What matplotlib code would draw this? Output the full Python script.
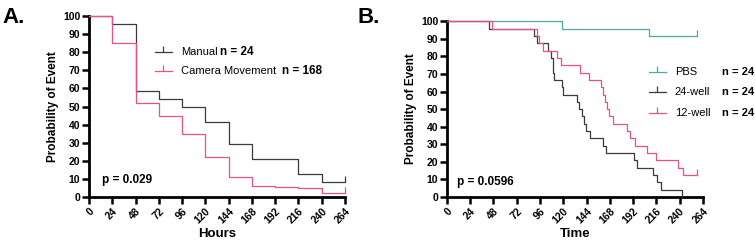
import matplotlib.pyplot as plt
from matplotlib.lines import TICKUP

plt.rcParams['font.family'] = ['Liberation Sans', 'DejaVu Sans']

# panel A
a_time = [0, 24, 48, 72, 96, 120, 144, 168, 192, 216, 240, 264]
manual = [100, 95.8, 58.3, 54.2, 50, 41.7, 29.2, 20.8, 20.8, 12.5, 8.3, 8.3]
camera = [100, 85.0, 51.8, 44.6, 35.0, 22.0, 11.3, 6.0, 5.4, 4.8, 2.4, 2.4]

# panel B
pbs_t = [0, 119, 208, 257.6]
pbs_v = [100, 95.8, 91.7, 91.7]
w24_t = [0, 43, 90, 92.5, 104.5, 107.5, 109, 109.5, 110, 119, 119.5, 134.4, 136.4,
         138.8, 141, 143.3, 147.4, 160.5, 164, 192.5, 196, 212.7, 216.8, 221, 242.6]
w24_v = [100, 95.8, 91.7, 87.5, 83.3, 79.2, 75, 70.8, 66.7, 62.5, 58.3, 54.2, 50,
         45.8, 41.7, 37.5, 33.3, 29.2, 25, 20.8, 16.7, 12.5, 8.3, 4.2, 0]
w12_t = [0, 46, 92.5, 95, 98.6, 113, 117.5, 137, 147, 158.4, 160.5, 163, 165, 167.5,
         171.5, 186, 189, 194, 206, 216, 238.5, 243.5, 257.6]
w12_v = [100, 95.8, 91.7, 87.5, 83.3, 79.2, 75, 70.8, 66.7, 62.5, 58.3, 54.2, 50, 45.8,
         41.7, 37.5, 33.3, 29.2, 25, 20.8, 16.7, 12.5, 12.5]

xticks = list(range(0, 265, 24))
yticks = list(range(0, 101, 10))

dark = '#3a3a3a'
pink = '#e8508a'
teal = '#4fa9a2'

fig = plt.figure(figsize=(7.55, 2.46), dpi=100)
axA = fig.add_axes([0.1179, 0.199, 0.339, 0.736])
axB = fig.add_axes([0.592, 0.199, 0.339, 0.715])


def style(ax, xlabel):
    ax.set_xlim(0, 264)
    ax.set_ylim(0, 100)
    ax.set_xticks(xticks)
    ax.set_yticks(yticks)
    for s in ['top', 'right']:
        ax.spines[s].set_visible(False)
    for s in ['left', 'bottom']:
        ax.spines[s].set_linewidth(2)
    ax.tick_params(width=1.8, length=4.8, labelsize=7.5, pad=1.5)
    for lab in ax.get_xticklabels():
        lab.set_rotation(45)
        lab.set_ha('right')
        lab.set_rotation_mode('anchor')
        lab.set_fontweight('bold')
    for lab in ax.get_yticklabels():
        lab.set_fontweight('bold')
    ax.set_ylabel('Probability of Event', fontsize=8.5, fontweight='bold', labelpad=3)
    ax.set_xlabel(xlabel, fontsize=9.5, fontweight='bold', labelpad=2)


def km(ax, t, v, c, censor=True):
    ax.step(t, v, where='post', color=c, lw=0.9, clip_on=False, zorder=3)
    if censor:
        ax.plot([t[-1]], [v[-1]], marker=TICKUP, ms=4, mew=0.9, color=c, clip_on=False, zorder=3)


def legend_row(ax, x, y, c, label, n, nx, nsize=8.5):
    ax.plot([x, x + 0.065], [y, y], color=c, lw=0.9, transform=ax.transAxes, clip_on=False)
    ax.plot([x + 0.0325], [y], marker=TICKUP, ms=4, mew=0.9, color=c,
            transform=ax.transAxes, clip_on=False)
    ax.text(x + 0.1, y, label, transform=ax.transAxes, fontsize=8, va='center')
    ax.text(nx, y, n, transform=ax.transAxes, fontsize=nsize, fontweight='bold', va='center')


# A
km(axA, a_time, manual, dark)
km(axA, a_time, camera, pink)
style(axA, 'Hours')
legend_row(axA, 0.258, 0.8, dark, 'Manual', 'n = 24', 0.51)
legend_row(axA, 0.258, 0.695, pink, 'Camera Movement', 'n = 168', 0.755)
axA.text(0.05, 0.075, 'p = 0.029', transform=axA.transAxes, fontsize=8.5, fontweight='bold')

# B
km(axB, pbs_t, pbs_v, teal)
km(axB, w24_t, w24_v, dark, censor=False)
km(axB, w12_t, w12_v, pink)
style(axB, 'Time')
legend_row(axB, 0.79, 0.71, teal, 'PBS', 'n = 24', 1.074, 8)
legend_row(axB, 0.79, 0.595, dark, '24-well', 'n = 24', 1.074, 8)
legend_row(axB, 0.79, 0.48, pink, '12-well', 'n = 24', 1.074, 8)
axB.text(0.04, 0.07, 'p = 0.0596', transform=axB.transAxes, fontsize=8.5, fontweight='bold')

fig.text(0.003, 0.905, 'A.', fontsize=16, fontweight='bold')
fig.text(0.474, 0.905, 'B.', fontsize=16, fontweight='bold')

fig.savefig('out.png', dpi=100)
